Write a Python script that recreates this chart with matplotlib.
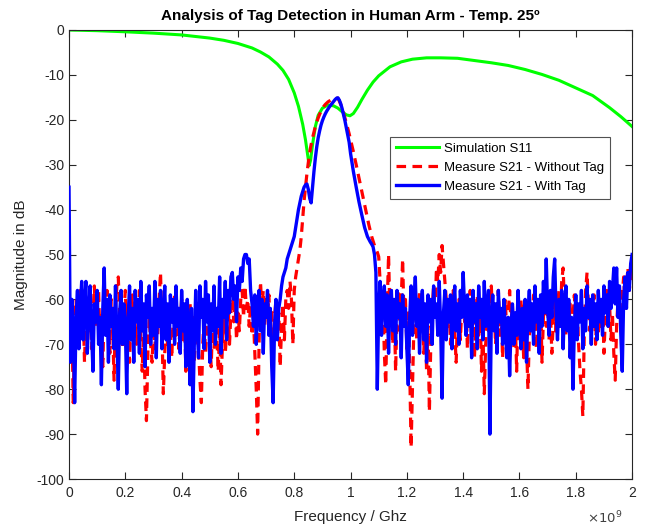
import numpy as np
import matplotlib
matplotlib.use("Agg")
import matplotlib.pyplot as plt

plt.rcParams['font.family'] = ['Liberation Sans', 'DejaVu Sans']
plt.rcParams['axes.unicode_minus'] = False

# ---------------- data (frequency in GHz, magnitude in dB) ----------------
s11_freq = [0, 0.1, 0.2, 0.3, 0.4, 0.5, 0.55, 0.6, 0.65, 0.68, 0.71, 0.74, 0.76, 0.78,
            0.8, 0.815, 0.83, 0.84, 0.848, 0.853, 0.858, 0.865, 0.875, 0.885, 0.9, 0.92,
            0.94, 0.955, 0.97, 0.985, 0.998, 1.01, 1.025, 1.04, 1.06, 1.08, 1.1, 1.14,
            1.18, 1.22, 1.27, 1.32, 1.38, 1.44, 1.5, 1.56, 1.62, 1.68, 1.74, 1.8, 1.86,
            1.92, 1.96, 2.0]
s11_db = [0, -0.15, -0.4, -0.7, -1.1, -1.8, -2.3, -3.0, -4.0, -4.9, -6.0, -7.6, -9.0, -11.0,
          -14.0, -17.0, -21.0, -24.5, -28.0, -30.2, -29.0, -25.5, -21.5, -19.0, -17.4, -16.7,
          -16.9, -17.4, -18.2, -18.9, -19.1, -18.6, -17.2, -15.5, -13.4, -11.6, -10.2, -8.2,
          -7.1, -6.5, -6.2, -6.2, -6.3, -6.8, -7.3, -7.9, -8.8, -9.9, -11.2, -12.9, -14.6,
          -17.3, -19.3, -21.5]

# Measure S21 - Without Tag (segments sampled every 5 MHz)
red_low_range = (0.0, 0.800)
red_low = [-58, -72, -64, -83, -66, -60, -70, -62, -58, -68, -61, -74, -63, -59, -67, -60, -71, -64, -57, -66,
           -62, -58, -69, -63, -75, -61, -67, -58, -65, -72, -60, -66, -78, -62, -57, -55, -64, -60, -71, -63,
           -58, -67, -61, -74, -64, -59, -68, -62, -70, -65, -58, -69, -76, -66, -80, -87, -72, -64, -70, -74,
           -66, -71, -61, -68, -60, -54, -66, -81, -72, -65, -70, -62, -67, -73, -64, -59, -68, -62, -71, -65,
           -60, -69, -63, -76, -66, -72, -61, -68, -64, -74, -67, -60, -71, -78, -83, -70, -64, -72, -66, -60,
           -69, -75, -65, -71, -63, -68, -76, -66, -79, -70, -64, -72, -67, -60, -70, -63, -58, -65, -61, -69,
           -63, -67, -60, -58, -64, -57, -62, -60, -66, -61, -68, -64, -72, -80, -90, -70, -56, -62, -58, -66,
           -60, -64, -59, -67, -62, -70, -64, -60, -68, -63, -75, -66, -61, -69, -60, -58, -62, -56, -60, -70,
           -58]
red_peak_range = (0.805, 1.100)
red_peak = [-55, -53, -51, -49, -46, -42, -38, -35, -32, -29.5, -27.2, -25.5, -24, -22.7, -21.5, -20.5,
            -19.6, -18.8, -18.1, -17.5, -17, -16.6, -16.3, -16, -15.8, -15.6, -15.5, -15.4, -15.3, -15.2,
            -15.2, -15.8, -16.6, -17.5, -18.5, -19.6, -20.7, -21.9, -23.1, -24.4, -25.7, -27.1, -28.5, -30,
            -31.5, -33, -34.5, -36, -37.5, -39, -40.5, -42, -43.4, -44.7, -46, -47, -48, -48.8, -49.5, -50.5]
red_high_range = (1.105, 2.000)
red_high = [-56, -66, -60, -72, -79, -62, -50, -64, -58, -70, -61, -76, -63, -58, -67, -60, -51, -65, -60, -71,
            -63, -75, -93, -80, -66, -60, -69, -63, -58, -67, -61, -72, -64, -76, -66, -85, -70, -62, -57, -64,
            -53, -56, -50, -54, -48, -52, -56, -60, -66, -61, -70, -63, -58, -67, -74, -64, -60, -69, -62, -57,
            -65, -60, -71, -63, -58, -67, -61, -73, -64, -59, -68, -62, -76, -66, -81, -70, -63, -67, -60, -57,
            -65, -61, -70, -63, -58, -68, -62, -73, -65, -60, -69, -63, -58, -66, -61, -71, -64, -76, -62, -68,
            -60, -66, -73, -64, -70, -80, -68, -61, -66, -59, -64, -71, -62, -67, -60, -74, -64, -58, -66, -61,
            -69, -63, -72, -65, -60, -68, -62, -58, -64, -56, -53, -62, -68, -60, -66, -61, -71, -64, -59, -67,
            -62, -70, -76, -80, -86, -68, -58, -54, -62, -67, -60, -65, -59, -70, -63, -68, -61, -66, -60, -72,
            -64, -58, -66, -61, -69, -63, -72, -78, -66, -60, -57, -64, -59, -55, -62, -57, -53, -58, -55, -52]

# Measure S21 - With Tag (segments sampled every 5 MHz)
blue_low_range = (0.0, 0.795)
blue_low = [-35, -74, -60, -66, -83, -64, -58, -71, -62, -56, -69, -60, -56, -72, -63, -57, -67, -76, -61, -65,
            -58, -70, -64, -79, -62, -53, -68, -60, -74, -59, -66, -62, -71, -57, -68, -80, -63, -58, -70, -61,
            -66, -81, -64, -57, -69, -62, -74, -58, -65, -60, -72, -56, -67, -61, -75, -59, -64, -57, -70, -62,
            -68, -56, -73, -60, -66, -58, -71, -63, -57, -69, -61, -74, -59, -65, -60, -70, -57, -66, -62, -72,
            -58, -67, -61, -75, -60, -66, -79, -62, -85, -70, -58, -66, -73, -57, -64, -60, -71, -56, -65, -59,
            -74, -61, -67, -57, -70, -62, -66, -55, -72, -60, -64, -56, -69, -58, -63, -55, -54, -60, -57, -65,
            -55, -58, -53, -56, -51, -50, -50, -52, -51, -58, -61, -66, -59, -70, -62, -58, -67, -60, -72, -61,
            -64, -58, -68, -62, -75, -83, -66, -60, -69, -62, -60, -57, -55, -54, -53, -51, -50, -49, -48, -47]
blue_peak_range = (0.800, 1.090)
blue_peak = [-46, -44, -42, -40, -38.5, -37, -36, -35, -34.5, -34.3, -35.5, -37.5, -38.5, -35, -31.5, -28.5,
             -26, -24, -22.5, -21.2, -20.2, -19.4, -18.7, -18.1, -17.6, -17.1, -16.7, -16.3, -15.9, -15.5,
             -15.2, -15.1, -15.6, -16.4, -17.5, -18.8, -20.2, -21.8, -23.4, -25, -27.5, -29.5, -31.5, -33.3,
             -35, -36.7, -38.3, -39.8, -41.2, -42.6, -44, -45, -46, -46.6, -47.2, -47.7, -48.3, -50, -54]
blue_high_range = (1.095, 2.000)
blue_high = [-80, -62, -56, -68, -60, -57, -66, -59, -72, -61, -58, -67, -60, -70, -58, -64, -61, -73, -59, -66,
             -62, -71, -79, -64, -57, -68, -61, -55, -66, -60, -72, -62, -58, -69, -61, -74, -59, -65, -60, -70,
             -57, -64, -61, -68, -56, -66, -82, -63, -58, -69, -60, -65, -59, -71, -62, -57, -67, -61, -70, -58,
             -64, -54, -62, -68, -59, -66, -60, -73, -58, -65, -61, -71, -57, -64, -60, -69, -56, -66, -62, -58,
             -90, -64, -59, -67, -61, -72, -58, -65, -62, -70, -60, -67, -73, -64, -77, -66, -61, -70, -63, -68,
             -58, -65, -71, -62, -69, -60, -74, -63, -58, -67, -61, -70, -57, -65, -60, -72, -59, -66, -56, -63,
             -51, -62, -68, -58, -64, -55, -51, -63, -69, -60, -66, -58, -71, -62, -57, -67, -60, -73, -64, -80,
             -66, -59, -69, -61, -65, -58, -71, -62, -67, -57, -64, -60, -70, -59, -66, -61, -69, -58, -65, -60,
             -68, -57, -63, -59, -66, -56, -62, -58, -53, -61, -53, -64, -57, -68, -76, -60, -55, -62, -54, -58,
             -52, -50]

xtick_vals = [0, 0.2, 0.4, 0.6, 0.8, 1.0, 1.2, 1.4, 1.6, 1.8, 2.0]
xtick_labels = ['0', '0.2', '0.4', '0.6', '0.8', '1', '1.2', '1.4', '1.6', '1.8', '2']
ytick_vals = [0, -10, -20, -30, -40, -50, -60, -70, -80, -90, -100]


def build(segments):
    fs, vs = [], []
    for (a, b), vals in segments:
        fs.append(np.linspace(a, b, len(vals)))
        vs.append(np.asarray(vals, dtype=float))
    return np.concatenate(fs), np.concatenate(vs)


red_f, red_v = build([(red_low_range, red_low), (red_peak_range, red_peak), (red_high_range, red_high)])
blue_f, blue_v = build([(blue_low_range, blue_low), (blue_peak_range, blue_peak), (blue_high_range, blue_high)])

# ---------------- figure ----------------
fig = plt.figure(figsize=(6.45, 5.29), dpi=100)
ax = fig.add_axes([0.107, 0.0945, 0.873, 0.8488])

ax.plot(s11_freq, s11_db, color='#00ff00', lw=2.2, label='Simulation S11', zorder=2)
ax.plot(red_f, red_v, color='#ff0000', lw=2.3, ls=(0, (3, 2)), label='Measure S21 - Without Tag', zorder=3)
ax.plot(blue_f, blue_v, color='#0000ff', lw=2.4, label='Measure S21 - With Tag', zorder=4)

ax.set_xlim(0, 2)
ax.set_ylim(-100, 0)
ax.set_xticks(xtick_vals)
ax.set_xticklabels(xtick_labels)
ax.set_yticks(ytick_vals)
ax.set_yticklabels([str(v) for v in ytick_vals])

axis_col = '#262626'
for sp in ax.spines.values():
    sp.set_color(axis_col)
    sp.set_linewidth(0.8)
ax.tick_params(direction='in', length=5, width=0.8, colors=axis_col, labelsize=10,
               top=True, right=True, labelcolor='#262626')
ax.tick_params(axis='x', pad=5)

ax.set_title('Analysis of Tag Detection in Human Arm - Temp. 25º', fontsize=11,
             fontweight='bold', pad=7)
ax.set_xlabel('Frequency / Ghz', fontsize=11, color='#262626', labelpad=7)
ax.set_ylabel('Magnitude in dB', fontsize=11, color='#262626', labelpad=6)

ax.text(0.982, -0.086, r'$\times10^{9}$', transform=ax.transAxes, ha='right', va='center',
        fontsize=9.5, color='#404040')

leg = ax.legend(loc='upper left', bbox_to_anchor=(0.570, 0.762), fontsize=9.5,
                frameon=True, fancybox=False, handlelength=3.3, handletextpad=0.35,
                borderpad=0.45, labelspacing=0.5, borderaxespad=0)
leg.get_frame().set_edgecolor('#262626')
leg.get_frame().set_linewidth(0.8)

fig.savefig('out.png', dpi=100)
